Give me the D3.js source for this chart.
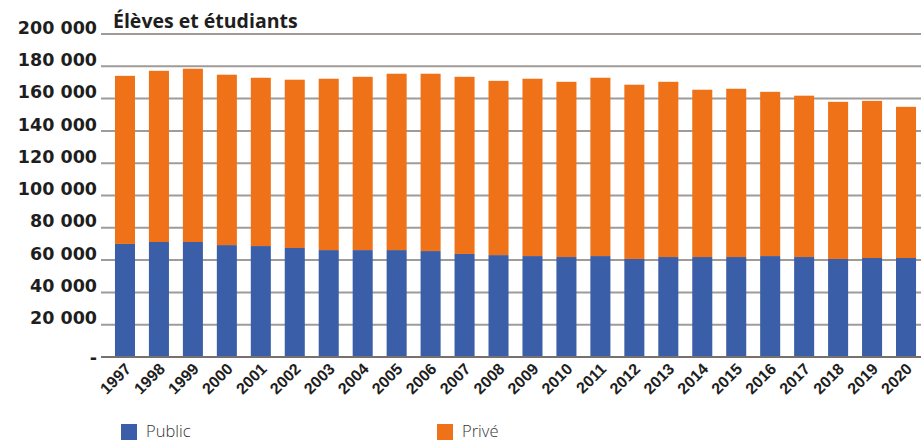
<!DOCTYPE html>
<html>
<head>
  <meta charset="utf-8">
  <title>Élèves et étudiants</title>
  <script src="https://d3js.org/d3.v7.min.js"></script>
  <style>
    body { margin: 0; background: #fff; }
    svg { display: block; }
  </style>
</head>
<body>
  <div id="chart"></div>
  <script>
    // data
    let years = ['1997', '1998', '1999', '2000', '2001', '2002', '2003', '2004', '2005', '2006', '2007', '2008',
      '2009', '2010', '2011', '2012', '2013', '2014', '2015', '2016', '2017', '2018', '2019', '2020'];
    let publicValues = [70000, 71200, 71200, 69300, 68700, 67500, 66200, 66200, 66200, 65600, 63800, 63100,
      62500, 61900, 62500, 60700, 61900, 61900, 61900, 62500, 61900, 60700, 61300, 61300];
    let priveValues = [104100, 106000, 107300, 105500, 104200, 104200, 106100, 107300, 109200, 109800, 109700, 107900,
      109800, 108500, 110400, 107900, 108500, 103600, 104200, 101700, 99900, 97300, 97300, 93600];
    let yTicks = [0, 20000, 40000, 60000, 80000, 100000, 120000, 140000, 160000, 180000, 200000];
    let seriesNames = ['Public', 'Privé'];
    let colors = ['#3a5ea8', '#ef7219'];

    let width = 921, height = 442;
    let plotLeft = 101, plotRight = 921, plotTop = 34, plotBottom = 357;

    let rows = years.map((y, i) => ({ year: y, Public: publicValues[i], 'Privé': priveValues[i] }));
    let stacked = d3.stack().keys(seriesNames)(rows);

    let svg = d3.select('#chart').append('svg')
      .attr('width', width)
      .attr('height', height);

    let x = d3.scaleBand()
      .domain(years)
      .range([108, 923])
      .paddingInner(0.41)
      .paddingOuter(0.205);

    let y = d3.scaleLinear()
      .domain([0, 200000])
      .range([plotBottom, plotTop]);

    let locale = d3.formatLocale({ decimal: ',', thousands: ' ', grouping: [3], currency: ['', ' €'] });
    let fmt = locale.format(',');

    // gridlines
    svg.append('g')
      .selectAll('line')
      .data(yTicks.filter(d => d > 0))
      .enter()
      .append('line')
      .attr('x1', plotLeft)
      .attr('x2', plotRight)
      .attr('y1', d => y(d))
      .attr('y2', d => y(d))
      .attr('stroke', '#a09b97')
      .attr('stroke-width', 2);

    // y axis labels
    let yAxis = svg.append('g')
      .attr('transform', 'translate(' + plotLeft + ',0)')
      .call(d3.axisLeft(y).tickValues(yTicks).tickSize(0).tickPadding(4)
        .tickFormat(d => d === 0 ? '-' : fmt(d)));
    yAxis.select('.domain').remove();
    yAxis.selectAll('text')
      .attr('dy', d => d === 0 ? '0.35em' : '-0.05em')
      .style('font-family', '"DejaVu Sans", sans-serif')
      .style('font-weight', 'bold')
      .style('font-size', '17.5px')
      .style('fill', '#1e1e1e');

    // bars
    svg.selectAll('.serie')
      .data(stacked)
      .enter()
      .append('g')
      .attr('class', 'serie')
      .attr('fill', (d, i) => colors[i])
      .selectAll('rect')
      .data(d => d)
      .enter()
      .append('rect')
      .attr('x', d => x(d.data.year))
      .attr('y', d => y(d[1]))
      .attr('width', x.bandwidth())
      .attr('height', d => y(d[0]) - y(d[1]));

    // baseline
    svg.append('line')
      .attr('x1', plotLeft)
      .attr('x2', plotRight)
      .attr('y1', y(0))
      .attr('y2', y(0))
      .attr('stroke', '#76716e')
      .attr('stroke-width', 2);

    // x axis labels
    let xAxis = svg.append('g')
      .attr('transform', 'translate(0,' + y(0) + ')')
      .call(d3.axisBottom(x).tickSize(0).tickPadding(0));
    xAxis.select('.domain').remove();
    xAxis.selectAll('text')
      .attr('text-anchor', 'end')
      .attr('dy', 0)
      .attr('transform', 'translate(7,13) rotate(-45)')
      .style('font-family', '"Liberation Sans", Arial, sans-serif')
      .style('font-weight', 'bold')
      .style('font-size', '16px')
      .style('fill', '#1e1e1e');

    // title
    svg.append('text')
      .attr('x', 113)
      .attr('y', 28)
      .text('Élèves et étudiants')
      .style('font-family', '"Open Sans", sans-serif')
      .style('font-weight', 'bold')
      .style('font-size', '19.5px')
      .style('fill', '#1e1e1e');

    // legend
    let legendX = [121, 437];
    let legend = svg.selectAll('.legend')
      .data(seriesNames)
      .enter()
      .append('g')
      .attr('class', 'legend')
      .attr('transform', (d, i) => 'translate(' + legendX[i] + ',424)');
    legend.append('rect')
      .attr('width', 16)
      .attr('height', 16)
      .attr('fill', (d, i) => colors[i]);
    legend.append('text')
      .attr('x', 25)
      .attr('y', 13)
      .text(d => d)
      .style('font-family', '"Open Sans", sans-serif')
      .style('font-weight', 300)
      .style('font-size', '16.5px')
      .style('fill', '#333');
  </script>
</body>
</html>
